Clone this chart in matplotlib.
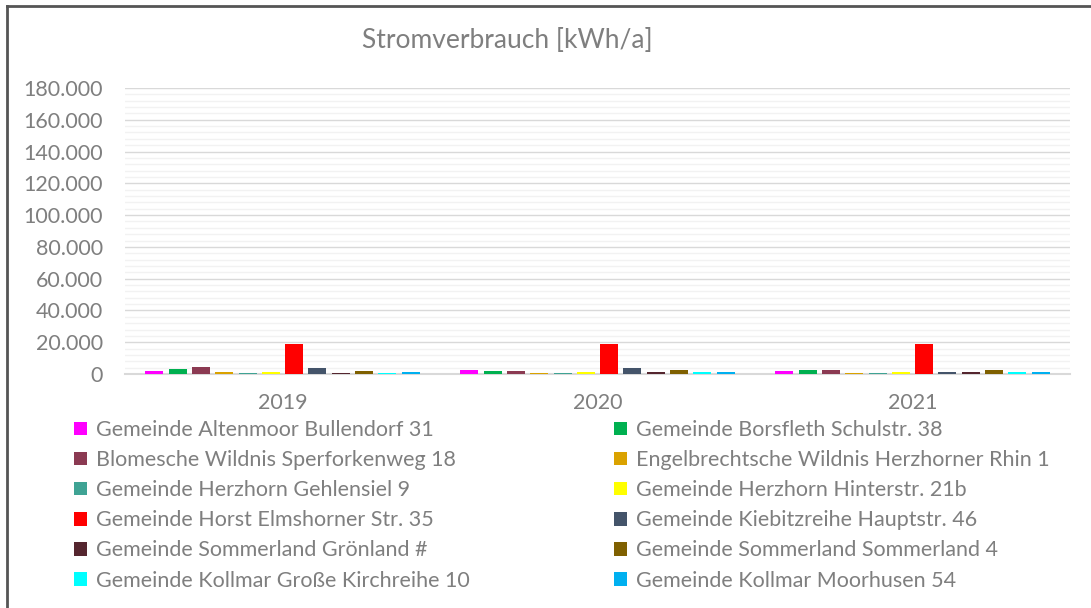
import matplotlib
matplotlib.use("Agg")
import matplotlib.pyplot as plt
import numpy as np
from matplotlib.patches import Patch
from matplotlib.lines import Line2D
from matplotlib.ticker import MultipleLocator, FuncFormatter

years = ["2019", "2020", "2021"]
series_names = [
    "Gemeinde Altenmoor Bullendorf 31",
    "Gemeinde Borsfleth Schulstr. 38",
    "Blomesche Wildnis Sperforkenweg 18",
    "Engelbrechtsche Wildnis Herzhorner Rhin 1",
    "Gemeinde Herzhorn Gehlensiel 9",
    "Gemeinde Herzhorn Hinterstr. 21b",
    "Gemeinde Horst Elmshorner Str. 35",
    "Gemeinde Kiebitzreihe Hauptstr. 46",
    "Gemeinde Sommerland Grönland #",
    "Gemeinde Sommerland Sommerland 4",
    "Gemeinde Kollmar Große Kirchreihe 10",
    "Gemeinde Kollmar Moorhusen 54",
]
colors = ["#FF00FF", "#00B050", "#8B3A52", "#DAA200", "#3FA394", "#FFFF00",
          "#FF0000", "#44546A", "#55262F", "#7F6000", "#00FFFF", "#00B0F0"]
values_2019 = [2100, 3200, 4200, 1100, 400, 1100, 19000, 4000, 800, 2100, 400, 1100]
values_2020 = [2500, 2100, 1900, 900, 600, 1000, 18700, 3800, 1000, 2700, 1000, 1000]
values_2021 = [2000, 2700, 2300, 800, 400, 1000, 18800, 1200, 1200, 2300, 1000, 1200]
values = np.array([values_2019, values_2020, values_2021])

gray = "#7F7F7F"
font = "Lato"
plt.rcParams["font.family"] = [font, "DejaVu Sans"]

fig = plt.figure(figsize=(10.91, 6.08), dpi=100)
ax = fig.add_axes([125/1091, 1-374/608, 945/1091, 286/608])

n = len(series_names)
slot = 23.3/315
bw = 18/315
x = np.arange(len(years))
handles = []
for i, name in enumerate(series_names):
    off = (i - (n-1)/2) * slot
    ax.bar(x + off, values[:, i], width=bw, color=colors[i], zorder=3)
    handles.append(Patch(facecolor=colors[i], label=name))

ax.set_xlim(-0.5, 2.5)
ax.set_ylim(0, 180000)
ax.yaxis.set_major_locator(MultipleLocator(20000))
ax.yaxis.set_minor_locator(MultipleLocator(4000))
ax.yaxis.set_major_formatter(FuncFormatter(lambda v, p: f"{int(v):,}".replace(",", ".") if v > 0 else "0"))
ax.grid(axis="y", which="major", color="#D9D9D9", linewidth=1.0, zorder=0)
ax.grid(axis="y", which="minor", color="#F2F2F2", linewidth=1.0, zorder=0)
for s in ["top", "right", "left"]:
    ax.spines[s].set_visible(False)
ax.spines["bottom"].set_color("#D9D9D9")
ax.spines["bottom"].set_linewidth(1.5)
ax.tick_params(axis="both", which="both", length=0, colors=gray, labelsize=15.5)
ax.tick_params(axis="y", pad=16)
ax.tick_params(axis="x", pad=14)
ax.set_xticks(x)
ax.set_xticklabels(years)

fig.text(507/1091, 1-40/608, "Stromverbrauch [kWh/a]", ha="center", va="center",
         color=gray, fontsize=19)

left = [handles[i] for i in range(0, n, 2)]
right = [handles[i] for i in range(1, n, 2)]
common = dict(frameon=False, fontsize=15.5, labelcolor=gray, handlelength=0.6,
              handleheight=0.6, handletextpad=0.4, labelspacing=0.47,
              borderaxespad=0, borderpad=0)
fig.legend(handles=left, loc="upper left", bbox_to_anchor=(74/1091, 1-420/608), **common)
fig.legend(handles=right, loc="upper left", bbox_to_anchor=(614/1091, 1-420/608), **common)

fig.add_artist(Line2D([7/1091, 7/1091], [0, 1-6/608], color="#555555", linewidth=2, transform=fig.transFigure))
fig.add_artist(Line2D([7/1091, 1], [1-6/608, 1-6/608], color="#555555", linewidth=2, transform=fig.transFigure))

fig.savefig("out.png", dpi=100)
